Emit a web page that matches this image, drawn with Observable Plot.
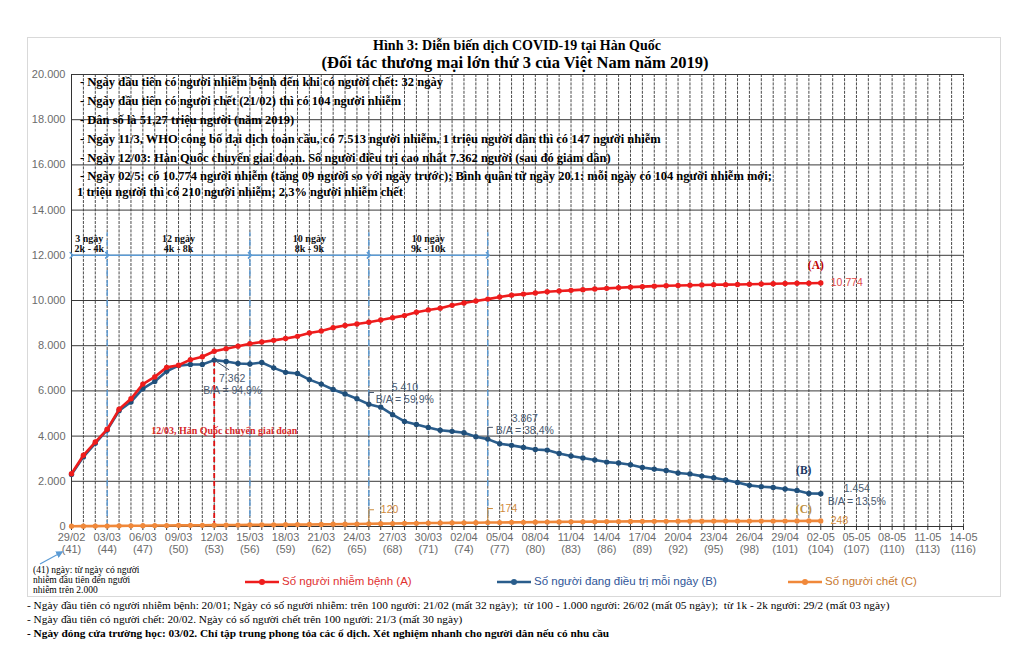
<!DOCTYPE html>
<html><head><meta charset="utf-8">
<script src="https://cdn.jsdelivr.net/npm/d3@7"></script>
<script src="https://cdn.jsdelivr.net/npm/@observablehq/plot@0.6"></script>
<style>
body{margin:0;background:#fff;}
#wrap{position:relative;width:1024px;height:665px;overflow:hidden;background:#fff;}
#wrap svg{position:absolute;left:0;top:0;}
.t{position:absolute;white-space:pre;line-height:1;}
.serif{font-family:"Liberation Serif","Times New Roman",serif;}
.sans{font-family:"Liberation Sans",Arial,sans-serif;}
#frame{position:absolute;left:27px;top:37px;width:972px;height:558px;border:1px solid #d9d9d9;}
</style></head><body>
<div id="wrap"><div id="frame"></div></div>
<script>
// ---- data ----
const firstDay = 41; // 29/02 = day 41 since first case (20/01)
const infected = [2337,3150,3736,4300,5186,5650,6300,6620,7041,7134,
  7382,7513,7755,7869,7979,8086,8162,8236,8320,8413,
  8565,8652,8799,8897,8961,9037,9137,9241,9332,9478,
  9583,9661,9786,9887,9976,10062,10156,10237,10284,10331,
  10384,10423,10450,10480,10512,10537,10564,10591,10613,10635,
  10653,10661,10674,10683,10694,10702,10708,10718,10728,10738,
  10752,10761,10765,10774];
const treating = [2300,3080,3680,4270,5120,5510,6100,6420,6870,7120,
  7165,7165,7362,7300,7210,7190,7255,7020,6820,6770,
  6500,6300,6060,5860,5650,5410,5280,4950,4650,4510,
  4380,4260,4210,4150,3970,3867,3660,3590,3500,3410,
  3380,3230,3120,3030,2940,2850,2810,2730,2610,2540,
  2480,2370,2320,2230,2160,2060,1950,1820,1760,1730,
  1660,1590,1460,1454];
const deaths = [13,16,17,22,28,32,35,42,44,50,
  51,54,60,66,67,72,75,75,81,84,
  91,94,102,104,111,120,126,131,139,144,
  152,158,162,165,169,174,177,183,186,192,
  200,204,208,211,214,217,222,225,229,230,
  232,234,236,237,238,240,240,240,242,243,
  244,246,247,248];
const tickDates = ["29/02","03/03","06/03","09/03","12/03","15/03","18/03","21/03","24/03","27/03",
  "30/03","02/04","05/04","08/04","11/04","14/04","17/04","20/04","23/04","26/04",
  "29/04","02-05","05-05","08-05","11-05","14-05"];
const tickDays = [41,44,47,50,53,56,59,62,65,68,71,74,77,80,83,86,89,92,95,98,101,104,107,110,113,116];
const yTicks = [0,2000,4000,6000,8000,10000,12000,14000,16000,18000,20000];
const seriesNames = ["Số người nhiễm bệnh (A)","Số người đang điều trị mỗi ngày (B)","Số người chết (C)"];
const seriesTags = ["(A)","(B)","(C)"];
const phaseBounds = [41,44,56,66,76];
const phaseDays = ["3 ngày","12 ngày","10 ngày","10 ngày"];
const phaseRanges = ["2k - 4k","4k - 8k","8k - 9k","9k - 10k"];
const turnDay = 53;
const turnLabel = "12/03, Hàn Quốc chuyển giai đoạn";
const annDays = [53,66,76,104];
const deathAnnDays = [66,76,104];
const title1 = "Hình 3: Diễn biến dịch COVID-19 tại Hàn Quốc";
const title2 = "(Đối tác thương mại lớn thứ 3 của Việt Nam năm 2019)";
const boxLines = [
  "- Ngày đầu tiên có người nhiễm bệnh đến khi có người chết: 32 ngày",
  "- Ngày đầu tiên có người chết (21/02) thì có 104 người nhiễm",
  "- Dân số là 51,27 triệu người (năm 2019)",
  "- Ngày 11/3, WHO công bố đại dịch toàn cầu, có 7.513 người nhiễm, 1 triệu người dân thì có 147 người nhiễm",
  "- Ngày 12/03: Hàn Quốc chuyển giai đoạn. Số người điều trị cao nhất 7.362 người (sau đó giảm dần)",
  "- Ngày 02/5: có 10.774 người nhiễm (tăng 09 người so với ngày trước); Bình quân từ ngày 20.1: mỗi ngày có 104 người nhiễm mới;",
  "1 triệu người thì có 210 người nhiễm; 2,3% người nhiễm chết"];
const axisNote = ["(41) ngày: từ ngày có người","nhiễm đầu tiên đến người","nhiễm trên 2.000"];
const bottomNotes = [
  "- Ngày đầu tiên có người nhiễm bệnh: 20/01; Ngày có số người nhiễm: trên 100 người: 21/02 (mất 32 ngày);  từ 100 - 1.000 người: 26/02 (mất 05 ngày);  từ 1k - 2k người: 29/2 (mất 03 ngày)",
  "- Ngày đầu tiên có người chết: 20/02. Ngày có số người chết trên 100 người: 21/3 (mất 30 ngày)",
  "- Ngày đóng cửa trường học: 03/02. Chỉ tập trung phong tỏa các ổ dịch. Xét nghiệm nhanh cho người dân nếu có nhu cầu"];

// ---- derived tables ----
const rows = infected.map((a, i) => ({day: firstDay + i, A: a, B: treating[i], C: deaths[i]}));
const byDay = new Map(rows.map(r => [r.day, r]));
const lastDay = tickDays[tickDays.length - 1];
const allDays = d3.range(firstDay, lastDay + 1);
const fmtNum = d => d3.format(",")(d).replace(/,/g, ".");
const phases = phaseDays.map((d, i) => ({start: phaseBounds[i], end: phaseBounds[i + 1], days: d, range: phaseRanges[i]}));
const ann = annDays.map(d => {
  const r = byDay.get(d);
  return {day: d, B: r.B, text: fmtNum(r.B) + "\nB/A = " + (r.B / r.A * 100).toFixed(1).replace(".", ",") + "%"};
});
const last = byDay.get(rows[rows.length - 1].day);

const RED = "#ee1c1c", BLUE = "#2a5d8c", ORANGE = "#f0883a";
const SERIF = "Liberation Serif, Times New Roman, serif";
const annStyle = [{dx: 18, dy: 24}, {dx: 36, dy: -11}, {dx: 37, dy: -15}, {dx: 36, dy: 1}];

// leader shapes for labels
const leaders = [];
ann.slice(1, 3).forEach((a, k) => {
  leaders.push({g: "b" + k, x: a.day, y: a.B}, {g: "b" + k, x: a.day, y: a.B + 520}, {g: "b" + k, x: a.day + 0.4, y: a.B + 520});
});
deathAnnDays.slice(0, 2).forEach((d, k) => {
  const v = byDay.get(d).C;
  leaders.push({g: "c" + k, x: d, y: v}, {g: "c" + k, x: d, y: v + 620}, {g: "c" + k, x: d + 0.4, y: v + 620});
});

const chart = Plot.plot({
  width: 1024, height: 665,
  marginTop: 74, marginBottom: 139, marginLeft: 71, marginRight: 61,
  x: {domain: [firstDay, lastDay]},
  y: {domain: [0, 20000]},
  style: {background: "transparent", fontFamily: "Liberation Sans, Arial, sans-serif", overflow: "visible"},
  marks: [
    Plot.gridX(allDays, {stroke: "#2b2b2b", strokeOpacity: 0.85, strokeDasharray: "3,1.2"}),
    Plot.gridY(yTicks, {stroke: "#3a3a3a", strokeOpacity: 1}),
    Plot.axisY(yTicks, {tickSize: 0, tickPadding: 6, tickFormat: fmtNum, fontSize: 11, fill: "#6b6b6b", label: null}),
    Plot.axisX(allDays, {tickSize: 4, tickFormat: () => "", stroke: "#333", label: null}),
    Plot.axisX(tickDays, {tickSize: 0, tickPadding: 6, fontSize: 11, fill: "#6b6b6b", lineHeight: 1.1, label: null,
      tickFormat: d => tickDates[tickDays.indexOf(d)] + "\n(" + d + ")"}),
    Plot.ruleX([firstDay], {stroke: "#333"}),
    Plot.ruleY([0], {stroke: "#333"}),
    // phase markers
    Plot.ruleX(phaseBounds.slice(1), {y1: 0, y2: 13000, stroke: "#5b9bd5", strokeWidth: 1.4, strokeDasharray: "6,4"}),
    Plot.link(phases, {x1: "start", x2: "end", y1: 12000, y2: 12000, stroke: "#5b9bd5", strokeWidth: 1.4, markerStart: "arrow", markerEnd: "arrow"}),
    Plot.text(phases, {x: d => (d.start + d.end) / 2, y: 12500, text: d => d.days + "\n" + d.range,
      fontFamily: SERIF, fontWeight: "bold", fontSize: 10, fill: "#111", lineHeight: 1.0}),
    // turning point
    Plot.ruleX([turnDay], {y1: 0, y2: byDay.get(turnDay).B, stroke: "#e01010", strokeWidth: 1.8, strokeDasharray: "5,3"}),
    Plot.text([turnLabel], {x: turnDay, y: 4250, dx: 10, text: d => d, fontFamily: SERIF, fontWeight: "bold", fontSize: 10, fill: "#d62828"}),
    // series
    Plot.line(rows, {x: "day", y: "C", stroke: ORANGE, strokeWidth: 2.6}),
    Plot.dot(rows, {x: "day", y: "C", fill: ORANGE, r: 2.6}),
    Plot.line(rows, {x: "day", y: "B", stroke: BLUE, strokeWidth: 2.6}),
    Plot.dot(rows, {x: "day", y: "B", fill: "#1f4e79", r: 2.7}),
    Plot.line(rows, {x: "day", y: "A", stroke: RED, strokeWidth: 2.6}),
    Plot.dot(rows, {x: "day", y: "A", fill: RED, r: 2.7}),
    // annotations
    Plot.line(leaders, {x: "x", y: "y", z: "g", stroke: d => d.g[0] === "b" ? "#44546a" : "#c98a3c", strokeWidth: 1}),
    Plot.link([ann[0]], {x1: "day", y1: "B", x2: d => d.day + 1.25, y2: d => d.B - 430, stroke: "#44546a", strokeWidth: 1}),
    ...ann.map((a, k) => Plot.text([a], {x: "day", y: "B", text: "text", dx: annStyle[k].dx, dy: annStyle[k].dy,
      fontSize: 10.5, fill: "#4a5a70", lineHeight: 1.15})),
    ...deathAnnDays.map((d, k) => Plot.text([byDay.get(d)], {x: "day", y: "C", text: r => String(r.C),
      textAnchor: "start", dx: k < 2 ? 12 : 10, dy: k < 2 ? -14 : 0, fontSize: 10.5, fill: "#d08a3c"})),
    Plot.text([last], {x: "day", y: "A", text: r => fmtNum(r.A), textAnchor: "start", dx: 10, fontSize: 10.5, fill: "#e04848"}),
    Plot.text([last], {x: "day", y: "A", text: () => seriesTags[0], dx: -5, dy: -18, fontFamily: SERIF, fontWeight: "bold", fontSize: 11.5, fill: "#c00000"}),
    Plot.text([last], {x: "day", y: "B", text: () => seriesTags[1], dx: -17, dy: -23, fontFamily: SERIF, fontWeight: "bold", fontSize: 11.5, fill: "#203864"}),
    Plot.text([last], {x: "day", y: "C", text: () => seriesTags[2], dx: -17, dy: -12, fontFamily: SERIF, fontWeight: "bold", fontSize: 11.5, fill: "#c09040"})
  ]
});
const wrap = document.getElementById("wrap");
wrap.appendChild(chart);

// ---- html text overlays ----
function put(text, x, yc, o) {
  const el = document.createElement("div");
  el.className = "t " + (o.cls || "serif");
  el.textContent = text;
  el.style.fontSize = o.size + "px";
  el.style.fontWeight = o.bold ? "bold" : "normal";
  el.style.color = o.color || "#000";
  el.style.top = (yc - o.size * 0.55) + "px";
  if (o.center) { el.style.left = x + "px"; el.style.transform = "translateX(-50%)"; }
  else el.style.left = x + "px";
  wrap.appendChild(el);
  return el;
}
put(title1, 517, 47, {size: 14, bold: true, center: true});
put(title2, 515, 64, {size: 16.5, bold: true, center: true});
const boxY = [83, 102, 121, 140, 159, 177, 193];
boxLines.forEach((l, i) => put(l, i === 6 ? 77 : 80, boxY[i], {size: 12.5, bold: true}));
axisNote.forEach((l, i) => put(l, 33, 571 + i * 10, {size: 9.5}));
const noteY = [606, 620, 634];
bottomNotes.forEach((l, i) => put(l, 27, noteY[i], {size: 11.3, bold: i === 2}));

// arrow from note to the day label
const ns = "http://www.w3.org/2000/svg";
const ov = document.createElementNS(ns, "svg");
ov.setAttribute("width", 1024); ov.setAttribute("height", 665);
ov.style.position = "absolute"; ov.style.left = "0"; ov.style.top = "0";
ov.innerHTML = `<defs><marker id="ah" viewBox="0 0 10 10" refX="8" refY="5" markerWidth="6" markerHeight="6" orient="auto"><path d="M0,0L10,5L0,10z" fill="#5b9bd5"/></marker></defs>
<line x1="40" y1="564" x2="62" y2="552" stroke="#5b9bd5" stroke-width="1.2" marker-end="url(#ah)"/>`;
wrap.appendChild(ov);

// legend
const legendColors = [RED, BLUE, ORANGE];
const legendText = ["#e03030", "#2f5597", "#c8782e"];
const legendX = [245, 497, 788];
seriesNames.forEach((n, i) => {
  const lx = legendX[i];
  const g = document.createElementNS(ns, "g");
  g.innerHTML = `<line x1="${lx}" y1="582" x2="${lx + 34}" y2="582" stroke="${legendColors[i]}" stroke-width="2.6"/><circle cx="${lx + 17}" cy="582" r="3" fill="${legendColors[i]}"/>`;
  ov.appendChild(g);
  put(n, lx + 37, 582, {size: 11.5, cls: "sans", color: legendText[i]});
});
</script>
</body></html>
